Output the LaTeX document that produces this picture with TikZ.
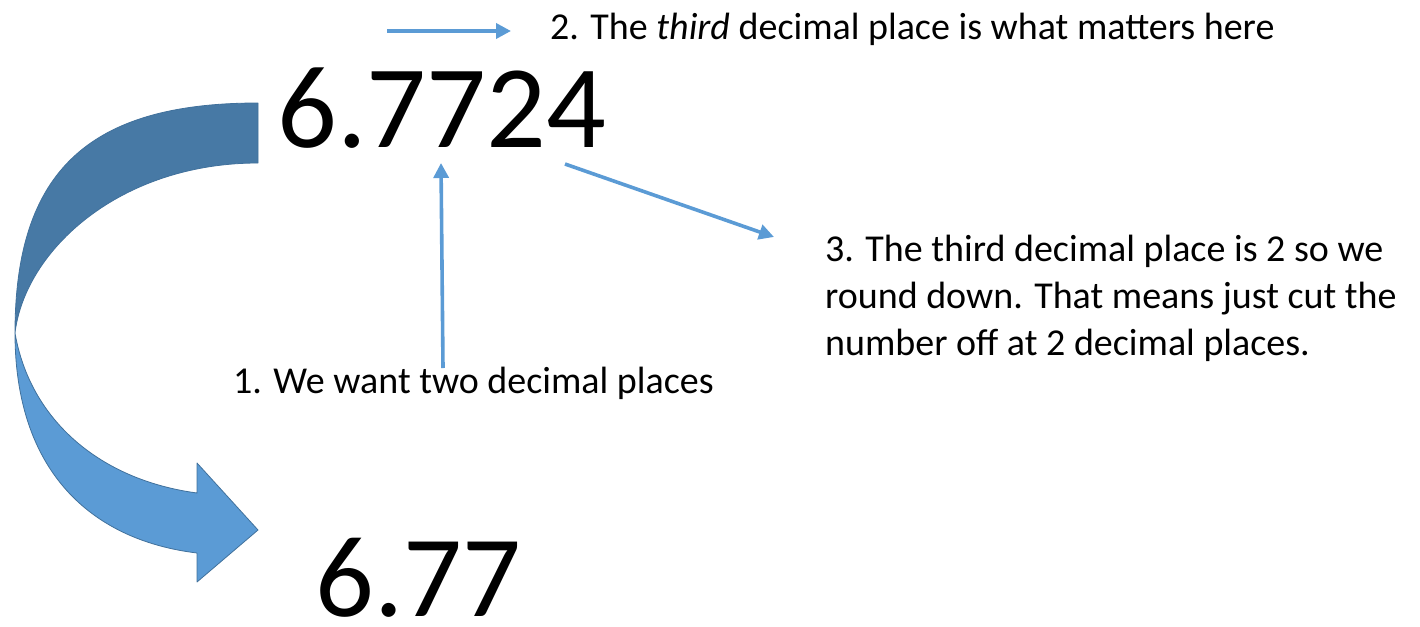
\documentclass[tikz,border=0pt]{standalone}
\usepackage{fontspec}
\setmainfont{Carlito}
\usetikzlibrary{arrows.meta}
\definecolor{arrowblue}{HTML}{5B9BD5}
\definecolor{darkband}{HTML}{4779A5}
\definecolor{bandedge}{HTML}{41719C}
\tikzset{
  bignum/.style={anchor=base west, inner sep=0pt, font=\fontsize{118}{118}\selectfont},
  label/.style={anchor=base west, inner sep=0pt, font=\fontsize{38}{47}\selectfont, align=left},
  pointer/.style={draw=arrowblue, line width=3.6pt, -{Triangle[length=15pt,width=15pt]}},
  band/.style={draw=bandedge, line width=0.8pt, line join=round}
}
\begin{document}
\begin{tikzpicture}[x=1pt,y=-1pt]
\useasboundingbox (0,0) rectangle (1420,626);
% curved arrow: dark upper half
\path[band, fill=darkband] (258,103) .. controls (90,103) and (15,170) .. (15,333)
  .. controls (25,250) and (120,163) .. (258,163) -- cycle;
% lighter lower half with head
\path[band, fill=arrowblue] (15,333) .. controls (15,470) and (90,540) .. (197,553)
  -- (197,582) -- (258,530) -- (197,463) -- (197,493)
  .. controls (100,480) and (30,420) .. (15,333) -- cycle;
% numbers
\node[bignum] (orig) at (277,147) {6.7724};
\node[bignum, font=\fontsize{116}{116}\selectfont] (res) at (315,616) {6.77};
% labels
\node[label] (l2) at (550,40) {2. The \textit{third} decimal place is what matters here};
\node[label] (l3) at (825,355) {3. The third decimal place is 2 so we\\round down. That means just cut the\\number off at 2 decimal places.};
\node[label] (l1) at (233,393) {1. We want two decimal places};
% pointer arrows
\coordinate (a2s) at (387,31);
\coordinate (a2e) at (511,31);
\coordinate (a3s) at (565,164);
\coordinate (a3e) at (774,237);
\coordinate (a1s) at (443,368);
\coordinate (a1e) at (441,163);
\draw[pointer] (a2s) -- (a2e);
\draw[pointer] (a3s) -- (a3e);
\draw[pointer] (a1s) -- (a1e);
\end{tikzpicture}
\end{document}
